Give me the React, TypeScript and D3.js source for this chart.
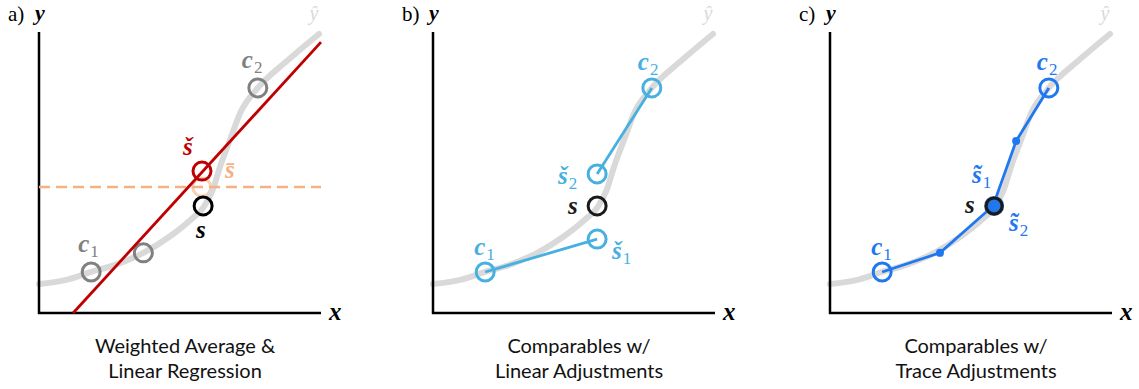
import React from "react";
import * as d3 from "d3";

// ---------- data (unit coordinates: x,y in [0,1]) ----------
const curveX = [0, 0.093, 0.185, 0.278, 0.37, 0.466, 0.537, 0.584, 0.616, 0.644, 0.68, 0.715, 0.776, 0.883, 0.993];
const curveY = [0.103, 0.117, 0.146, 0.174, 0.214, 0.274, 0.331, 0.377, 0.438, 0.527, 0.623, 0.715, 0.801, 0.9, 0.993];

const c1 = [0.185, 0.146];
const c2 = [0.776, 0.801];
const sPt = [0.582, 0.381];

// panel a
const midComparable = [0.37, 0.214];
const regressionLine = [[0.121, 0], [1.0, 0.964]];
const regressionEstimate = [0.578, 0.505];
const weightedAverage = [0.577, 0.448];

// panel b
const linAdj1 = [0.582, 0.263];
const linAdj2 = [0.582, 0.495];

// panel c
const traceX = [0.185, 0.39, 0.578, 0.66, 0.776];
const traceY = [0.146, 0.214, 0.381, 0.612, 0.801];

const panelLetters = ["a)", "b)", "c)"];
const captions = [
  ["Weighted Average &", "Linear Regression"],
  ["Comparables w/", "Linear Adjustments"],
  ["Comparables w/", "Trace Adjustments"],
];

// ---------- styles ----------
const W = 1139, H = 389;
const panelLeft = [39, 433, 830];
const panelW = 282;
const top = 32, bottom = 313;
const GRAY_CURVE = "#d9d9d9";
const GRAY = "#808080";
const RED = "#c00000";
const ORANGE = "#f4b183";
const SKY = "#45b0e1";
const BLUE = "#1f78f0";
const MATH = "'Liberation Serif', 'DejaVu Serif', serif";

function Lbl({ x, y, base, sub, color, size = 25 }: any) {
  return (
    <text x={x} y={y} fill={color} fontFamily={MATH} fontSize={size} fontWeight="bold" fontStyle="italic">
      {base}
      {sub && (
        <tspan dx={1} dy={5} fontSize={17} fontWeight="normal" fontStyle="normal">{sub}</tspan>
      )}
    </text>
  );
}

function Panel({ idx }: { idx: number }) {
  const x0 = panelLeft[idx];
  const xs = d3.scaleLinear().domain([0, 1]).range([x0, x0 + panelW]);
  const ys = d3.scaleLinear().domain([0, 1]).range([bottom, top]);
  const pts = curveX.map((v, i) => [v, curveY[i]] as [number, number]);
  const curvePath = d3.line<[number, number]>().x(d => xs(d[0])).y(d => ys(d[1])).curve(d3.curveMonotoneX)(pts) || "";
  const line = d3.line<[number, number]>().x(d => xs(d[0])).y(d => ys(d[1]));
  const R = 9;
  const cx = (p: number[]) => xs(p[0]);
  const cy = (p: number[]) => ys(p[1]);

  return (
    <g>
      {/* panel title */}
      <text x={x0 - 31} y={21} fontFamily="'Liberation Serif', serif" fontSize={21} fill="#000">{panelLetters[idx]}</text>
      <text x={x0 - 4} y={20} fontFamily={MATH} fontSize={22} fontWeight="bold" fontStyle="italic" fill="#000">y</text>
      <text x={xs(0.975)} y={20} fontFamily={MATH} fontSize={20} fontStyle="italic" fill={GRAY_CURVE} textAnchor="middle">ŷ</text>

      {idx === 0 && (
        <circle cx={cx(weightedAverage)} cy={cy(weightedAverage)} r={R} fill="none" stroke={ORANGE} strokeWidth={3} opacity={0.6} />
      )}
      {/* ground-truth curve */}
      <path d={curvePath} fill="none" stroke={GRAY_CURVE} strokeWidth={6} strokeLinecap="round" />

      {/* axes */}
      <line x1={xs(0)} x2={xs(0)} y1={ys(1)} y2={ys(0) + 1} stroke="#000" strokeWidth={2.5} />
      <line x1={xs(0) - 1} x2={xs(1)} y1={ys(0)} y2={ys(0)} stroke="#000" strokeWidth={2.5} />
      <text x={xs(1) + 8} y={ys(0) + 7} fontFamily={MATH} fontSize={25} fontWeight="bold" fontStyle="italic" fill="#000">x</text>

      {idx === 0 && (
        <g>
          <line x1={xs(0)} x2={xs(1)} y1={cy(weightedAverage)} y2={cy(weightedAverage)} stroke={ORANGE} strokeWidth={2.5} strokeDasharray="11,6" />
          {[c1, midComparable, c2].map((p, i) => (
            <circle key={i} cx={cx(p)} cy={cy(p)} r={R} fill="none" stroke={GRAY} strokeWidth={3} />
          ))}
          <path d={line(regressionLine as any) || ""} stroke={RED} strokeWidth={2.8} fill="none" />
          <circle cx={cx(regressionEstimate)} cy={cy(regressionEstimate)} r={R} fill="none" stroke={RED} strokeWidth={3} />
          <circle cx={cx(sPt)} cy={cy(sPt)} r={R} fill="none" stroke="#000" strokeWidth={3} />
          <Lbl x={cx(c2) - 16} y={68} base="c" sub="2" color={GRAY} />
          <Lbl x={cx(c1) - 13} y={252} base="c" sub="1" color={GRAY} />
          <Lbl x={cx(regressionEstimate) - 19} y={155} base={"š"} color={RED} />
          <Lbl x={cx(regressionEstimate) + 23} y={178} base={"s\u0304"} color={ORANGE} />
          <Lbl x={cx(sPt) - 7} y={238} base="s" color="#000" />
        </g>
      )}

      {idx === 1 && (
        <g>
          <path d={line([c1, linAdj1] as any) || ""} stroke={SKY} strokeWidth={2.8} fill="none" />
          <path d={line([c2, linAdj2] as any) || ""} stroke={SKY} strokeWidth={2.8} fill="none" />
          {[c1, c2, linAdj1, linAdj2].map((p, i) => (
            <circle key={i} cx={cx(p)} cy={cy(p)} r={R} fill="none" stroke={SKY} strokeWidth={3} />
          ))}
          <circle cx={cx(sPt)} cy={cy(sPt)} r={R} fill="none" stroke="#1a1a1a" strokeWidth={3} />
          <Lbl x={cx(c2) - 14} y={70} base="c" sub="2" color={SKY} />
          <Lbl x={cx(c1) - 11} y={255} base="c" sub="1" color={SKY} />
          <Lbl x={cx(linAdj2) - 39} y={184} base={"š"} sub="2" color={SKY} />
          <Lbl x={cx(sPt) - 29} y={214} base="s" color="#1a1a1a" />
          <Lbl x={cx(linAdj1) + 15} y={259} base={"š"} sub="1" color={SKY} />
        </g>
      )}

      {idx === 2 && (
        <g>
          <circle cx={cx(sPt)} cy={cy(sPt)} r={R + 1} fill="#1e5a9c" stroke="none" opacity={0.9} />
          <circle cx={cx(sPt)} cy={cy(sPt)} r={R - 3} fill={BLUE} stroke="none" />
          <path d={line(traceX.map((v, i) => [v, traceY[i]]) as any) || ""} stroke={BLUE} strokeWidth={2.8} fill="none" />
          <circle cx={cx(sPt)} cy={cy(sPt)} r={R - 1} fill="none" stroke="#1a1a1a" strokeWidth={3} />
          {[c1, c2].map((p, i) => (
            <circle key={i} cx={cx(p)} cy={cy(p)} r={R} fill="none" stroke={BLUE} strokeWidth={3} />
          ))}
          {[1, 3].map(i => (
            <circle key={i} cx={xs(traceX[i])} cy={ys(traceY[i])} r={4} fill={BLUE} />
          ))}
          <Lbl x={cx(c2) - 12} y={70} base="c" sub="2" color={BLUE} />
          <Lbl x={cx(c1) - 11} y={255} base="c" sub="1" color={BLUE} />
          <Lbl x={cx(sPt) - 22} y={183} base={"s\u0303"} sub="1" color={BLUE} />
          <Lbl x={cx(sPt) - 29} y={213} base="s" color="#1a1a1a" />
          <Lbl x={cx(sPt) + 15} y={231} base={"s\u0303"} sub="2" color={BLUE} />
        </g>
      )}

      {/* caption */}
      {captions[idx].map((t, i) => (
        <text key={i} x={x0 + panelW / 2 + 5} y={353 + i * 25} textAnchor="middle" fontFamily="Lato, 'Open Sans', sans-serif" fontSize={20} fill="#111">{t}</text>
      ))}
    </g>
  );
}

export default function App() {
  return (
    <svg width={W} height={H} viewBox={`0 0 ${W} ${H}`} style={{ position: "absolute", left: 0, top: 0, background: "#fff" }}>
      <rect width={W} height={H} fill="#fff" />
      {[0, 1, 2].map(i => <Panel key={i} idx={i} />)}
    </svg>
  );
}
